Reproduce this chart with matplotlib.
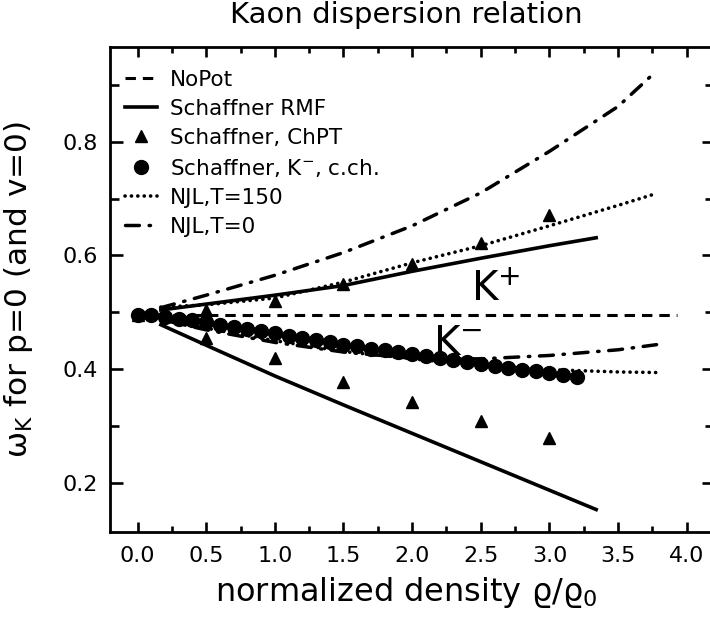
import matplotlib
matplotlib.use("Agg")
import matplotlib.pyplot as plt
from matplotlib.ticker import MultipleLocator

plt.rcParams["font.family"] = ["DejaVu Sans"]
plt.rcParams["mathtext.fontset"] = "dejavusans"
plt.rcParams["lines.scale_dashes"] = False

# NoPot (free kaon mass)
nopot_x = [0.0, 3.93]
nopot_y = [0.495, 0.495]

# Schaffner RMF, K+ and K- branches
rmf_kp_x = [0.17, 1.0, 1.5, 2.0, 2.5, 3.0, 3.34]
rmf_kp_y = [0.504, 0.530, 0.547, 0.572, 0.595, 0.617, 0.631]
rmf_km_x = [0.17, 0.5, 1.0, 1.5, 2.0, 2.5, 3.0, 3.34]
rmf_km_y = [0.478, 0.442, 0.388, 0.337, 0.287, 0.237, 0.187, 0.153]

# Schaffner ChPT points
chpt_x = [0.0, 0.5, 1.0, 1.5, 2.0, 2.5, 3.0, 0.5, 1.0, 1.5, 2.0, 2.5, 3.0]
chpt_y = [0.495, 0.504, 0.520, 0.550, 0.585, 0.622, 0.671,
          0.454, 0.419, 0.378, 0.343, 0.309, 0.278]

# Schaffner K-, coupled channels
cch_x = [0.0, 0.1, 0.2, 0.3, 0.4, 0.5, 0.6, 0.7, 0.8, 0.9, 1.0, 1.1, 1.2, 1.3,
         1.4, 1.5, 1.6, 1.7, 1.8, 1.9, 2.0, 2.1, 2.2, 2.3, 2.4, 2.5, 2.6, 2.7,
         2.8, 2.9, 3.0, 3.1, 3.2]
cch_y = [0.495, 0.495, 0.492, 0.489, 0.486, 0.483, 0.478, 0.474, 0.471, 0.467,
         0.464, 0.458, 0.455, 0.451, 0.447, 0.443, 0.440, 0.436, 0.433, 0.430,
         0.427, 0.423, 0.419, 0.416, 0.412, 0.409, 0.406, 0.402, 0.399, 0.396,
         0.393, 0.390, 0.386]

# NJL, T=150
njl150_kp_x = [0.17, 0.5, 1.0, 1.5, 2.0, 2.5, 3.0, 3.5, 3.78]
njl150_kp_y = [0.509, 0.513, 0.525, 0.553, 0.587, 0.617, 0.652, 0.688, 0.709]
njl150_km_x = [0.17, 0.5, 1.0, 1.5, 2.0, 2.5, 3.0, 3.5, 3.78]
njl150_km_y = [0.487, 0.472, 0.450, 0.431, 0.418, 0.407, 0.399, 0.395, 0.394]

# NJL, T=0
njl0_kp_x = [0.17, 0.5, 1.0, 1.5, 2.0, 2.5, 3.0, 3.5, 3.76]
njl0_kp_y = [0.508, 0.530, 0.565, 0.605, 0.652, 0.710, 0.783, 0.862, 0.920]
njl0_km_x = [0.17, 0.5, 1.0, 1.5, 2.0, 2.5, 3.0, 3.5, 3.78]
njl0_km_y = [0.487, 0.469, 0.447, 0.430, 0.419, 0.418, 0.424, 0.434, 0.443]

x_ticks = [0.0, 0.5, 1.0, 1.5, 2.0, 2.5, 3.0, 3.5, 4.0]
y_ticks = [0.2, 0.4, 0.6, 0.8]

dash = (0, (7.5, 5))
dot = (0, (0.1, 4.5))
dashdot = (0, (10, 7, 1, 7))

fig = plt.figure(figsize=(7.1, 6.19), dpi=100)
ax = fig.add_axes([0.155, 0.141, 0.851, 0.7826])

ax.plot(nopot_x, nopot_y, color="black", lw=2.2, linestyle=dash, label="NoPot")
ax.plot(rmf_kp_x, rmf_kp_y, color="black", lw=2.6, label="Schaffner RMF")
ax.plot(rmf_km_x, rmf_km_y, color="black", lw=2.6)
ax.plot(njl150_kp_x, njl150_kp_y, color="black", lw=2.6, linestyle=dot,
        dash_capstyle="round")
ax.plot(njl150_km_x, njl150_km_y, color="black", lw=2.6, linestyle=dot,
        dash_capstyle="round")
ax.plot(njl0_kp_x, njl0_kp_y, color="black", lw=2.5, linestyle=dashdot,
        dash_capstyle="round")
ax.plot(njl0_km_x, njl0_km_y, color="black", lw=2.5, linestyle=dashdot,
        dash_capstyle="round")
ax.plot(chpt_x, chpt_y, "^", color="black", ms=9, label="Schaffner, ChPT")
ax.plot(cch_x, cch_y, "o", color="black", ms=10,
        label="Schaffner, K$^{-}$, c.ch.")

# legend-only handles for the NJL curves
ax.plot([], [], color="black", lw=2.6, linestyle=dot, dash_capstyle="round",
        label="NJL,T=150")
ax.plot([], [], color="black", lw=2.5, linestyle=dashdot, dash_capstyle="round",
        label="NJL,T=0")

ax.text(2.43, 0.519, "K$^{+}$", fontsize=29, ha="left", va="baseline")
ax.text(2.15, 0.425, "K$^{-}$", fontsize=29, ha="left", va="baseline")

ax.set_xlim(-0.2, 4.2)
ax.set_ylim(0.114, 0.966)
ax.set_xticks(x_ticks)
ax.set_xticklabels([f"{t:.1f}" for t in x_ticks])
ax.set_yticks(y_ticks)
ax.set_yticklabels([f"{t:.1f}" for t in y_ticks])
ax.xaxis.set_minor_locator(MultipleLocator(0.25))
ax.yaxis.set_minor_locator(MultipleLocator(0.1))

ax.tick_params(which="both", direction="in", top=True, right=True, width=1.9,
               labelsize=16)
ax.tick_params(axis="x", which="major", length=7.5, pad=10)
ax.tick_params(axis="x", which="minor", length=4)
ax.tick_params(axis="y", which="major", length=9, pad=9)
ax.tick_params(axis="y", which="minor", length=6.5)
for sp in ax.spines.values():
    sp.set_linewidth(2.0)

ax.set_xlabel("normalized density ϱ/ϱ$_0$", fontsize=23)
ax.set_ylabel("ω$_{\\rm K}$ for p=0 (and v=0)", fontsize=22.5)
ax.xaxis.set_label_coords(0.49, -0.09)
ax.yaxis.set_label_coords(-0.125, 0.5)

fig.text(406 / 710, 1 - 23 / 619, "Kaon dispersion relation", fontsize=21,
         ha="center", va="baseline")

handles, labels = ax.get_legend_handles_labels()
order = ["NoPot", "Schaffner RMF", "Schaffner, ChPT",
         "Schaffner, K$^{-}$, c.ch.", "NJL,T=150", "NJL,T=0"]
hl = dict(zip(labels, handles))
ax.legend([hl[k] for k in order], order, loc="upper left",
          bbox_to_anchor=(0.0, 0.985), frameon=False, fontsize=15.5,
          numpoints=1, handlelength=1.5, handletextpad=0.6, labelspacing=0.42,
          borderaxespad=0.3)

fig.savefig("out.png", dpi=100)
